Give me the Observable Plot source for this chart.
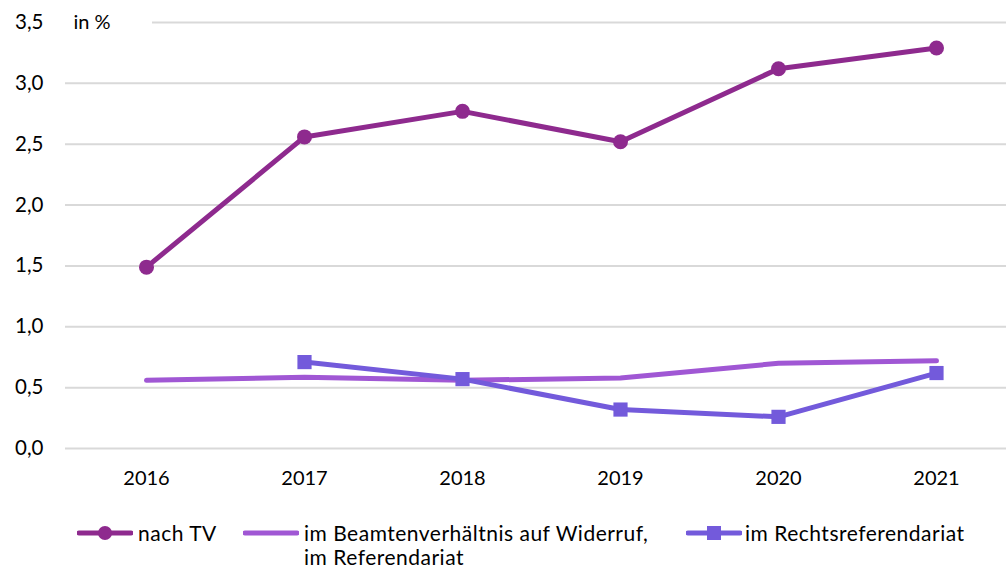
<!DOCTYPE html>
<html><head><meta charset="utf-8">
<script src="https://cdn.jsdelivr.net/npm/d3@7"></script>
<script src="https://cdn.jsdelivr.net/npm/@observablehq/plot@0.6"></script>
<style>
body{margin:0;background:#fff;font-family:Lato,"Open Sans",sans-serif;}
#wrap{position:relative;width:1006px;height:569px;overflow:hidden;}
.leg{position:absolute;font-size:21px;letter-spacing:0.5px;color:#000;line-height:24px;white-space:nowrap;}
.sw{position:absolute;}
</style></head><body>
<div id="wrap"></div>
<script>
const years = [2016, 2017, 2018, 2019, 2020, 2021];
const nachTV = [1.49, 2.56, 2.77, 2.52, 3.12, 3.29];
const beamte = [0.56, 0.585, 0.56, 0.58, 0.70, 0.72];
const rechts = [null, 0.71, 0.57, 0.32, 0.26, 0.62];
const yTicks = [0, 0.5, 1, 1.5, 2, 2.5, 3, 3.5];
const seriesNames = ["nach TV", "im Beamtenverhältnis auf Widerruf, im Referendariat", "im Rechtsreferendariat"];
const colors = ["#8E2A8E", "#A057D4", "#735ADB"];

const rowsTV = years.map((y, i) => ({year: y, v: nachTV[i]}));
const rowsB = years.map((y, i) => ({year: y, v: beamte[i]}));
const rowsR = years.map((y, i) => ({year: y, v: rechts[i]})).filter(d => d.v != null);
const fmt = d => d.toFixed(1).replace(".", ",");

const chart = Plot.plot({
  width: 1006, height: 510,
  marginLeft: 65, marginRight: 0, marginTop: 22, marginBottom: 62,
  style: {fontFamily: "Lato, 'Open Sans', sans-serif", fontSize: "20px", color: "#000", background: "#fff"},
  x: {type: "point", domain: years, range: [144, 938], padding: 0},
  y: {domain: [0, 3.5]},
  marks: [
    Plot.ruleY(yTicks.filter(t => t < 3.5), {stroke: "#d9d9d9", strokeWidth: 2}),
    Plot.ruleY([3.5], {stroke: "#d9d9d9", strokeWidth: 2, insetLeft: 87}),
    Plot.axisY({ticks: yTicks, tickFormat: fmt, tickSize: 0, tickPadding: 22, fontSize: 20.5, label: null}),
    Plot.axisX({tickSize: 0, tickPadding: 22, fontSize: 20, tickFormat: d => String(d), label: null}),
    Plot.text(["in %"], {frameAnchor: "top-left", dx: 8, textAnchor: "start", lineAnchor: "middle", fontSize: 20}),
    Plot.line(rowsB, {x: "year", y: "v", stroke: colors[1], strokeWidth: 5}),
    Plot.line(rowsR, {x: "year", y: "v", stroke: colors[2], strokeWidth: 5}),
    Plot.dot(rowsR, {x: "year", y: "v", fill: colors[2], symbol: "square", r: 8}),
    Plot.line(rowsTV, {x: "year", y: "v", stroke: colors[0], strokeWidth: 5}),
    Plot.dot(rowsTV, {x: "year", y: "v", fill: colors[0], r: 7.5})
  ]
});
const wrap = document.getElementById("wrap");
wrap.appendChild(chart);

// legend
function swatch(left, top, color, marker) {
  const ns = "http://www.w3.org/2000/svg";
  const s = document.createElementNS(ns, "svg");
  s.setAttribute("width", 56); s.setAttribute("height", 20);
  s.setAttribute("class", "sw");
  s.style.left = left + "px"; s.style.top = top + "px";
  const l = document.createElementNS(ns, "line");
  l.setAttribute("x1", 2); l.setAttribute("x2", 54); l.setAttribute("y1", 10); l.setAttribute("y2", 10);
  l.setAttribute("stroke", color); l.setAttribute("stroke-width", 5); l.setAttribute("stroke-linecap", "round");
  s.appendChild(l);
  if (marker === "circle") {
    const c = document.createElementNS(ns, "circle");
    c.setAttribute("cx", 28); c.setAttribute("cy", 10); c.setAttribute("r", 7); c.setAttribute("fill", color);
    s.appendChild(c);
  } else if (marker === "square") {
    const r = document.createElementNS(ns, "rect");
    r.setAttribute("x", 21); r.setAttribute("y", 3); r.setAttribute("width", 14); r.setAttribute("height", 14); r.setAttribute("fill", color);
    s.appendChild(r);
  }
  wrap.appendChild(s);
}
function label(left, top, html) {
  const d = document.createElement("div");
  d.className = "leg"; d.style.left = left + "px"; d.style.top = top + "px";
  d.innerHTML = html; wrap.appendChild(d);
}
swatch(77, 523, colors[0], "circle");
label(138, 521, seriesNames[0]);
swatch(243, 523, colors[1], null);
label(304, 521, "im Beamtenverhältnis auf Widerruf,<br>im Referendariat");
swatch(686, 523, colors[2], "square");
label(745, 521, seriesNames[2]);
</script>
</body></html>
